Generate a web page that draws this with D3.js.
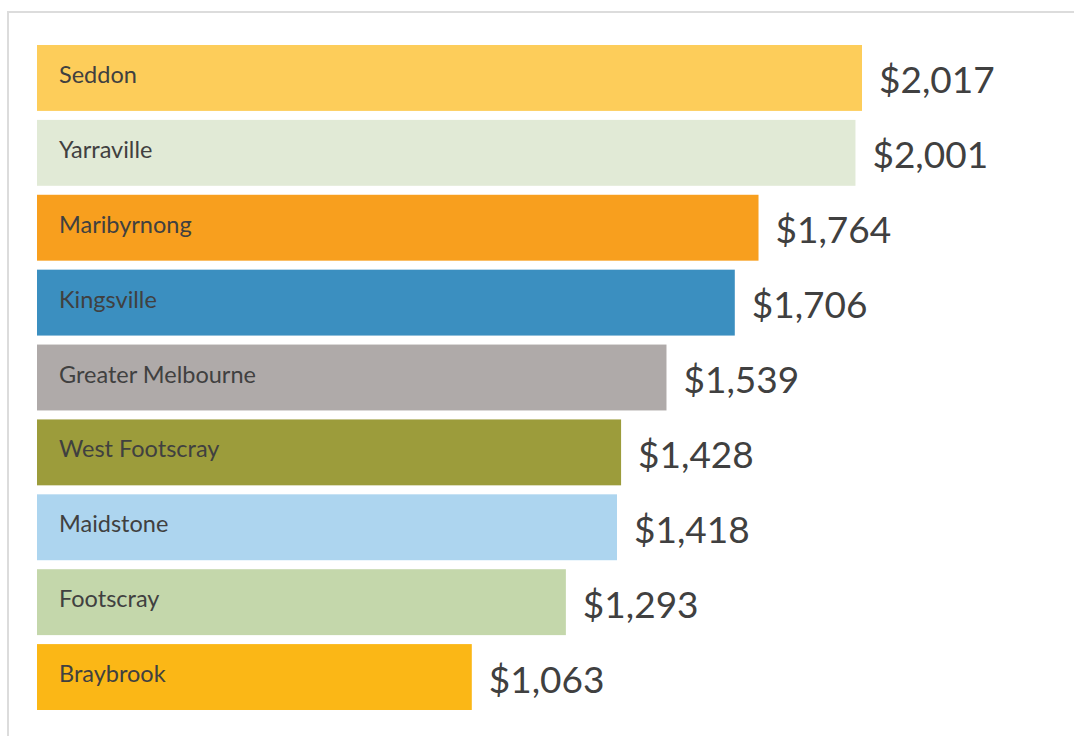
<!DOCTYPE html>
<html>
<head>
<meta charset="utf-8">
<script src="https://cdn.jsdelivr.net/npm/d3@7"></script>
<style>
  body { margin: 0; background: #fff; }
  svg { display: block; }
</style>
</head>
<body>
<script>
var suburbs = ['Seddon', 'Yarraville', 'Maribyrnong', 'Kingsville', 'Greater Melbourne',
               'West Footscray', 'Maidstone', 'Footscray', 'Braybrook'];
var rents = [2017, 2001, 1764, 1706, 1539, 1428, 1418, 1293, 1063];
var barColors = ['#fdcd5a', '#e1ead6', '#f89f1e', '#3b8fc0', '#afaaa9',
                 '#9c9c3b', '#add5ef', '#c4d7ab', '#fbb716'];

var chartOption = {
  width: 1074,
  height: 736
};

var rows = suburbs.map(function(s, i){
  return { name: s, value: rents[i], color: barColors[i] };
});

var svg = d3.select('body')
            .append('svg')
            .attr('width', chartOption.width)
            .attr('height', chartOption.height);

// light frame round the chart
svg.append('rect')
   .attr('x', 8)
   .attr('y', 12)
   .attr('width', 1080)
   .attr('height', 740)
   .style('fill', 'none')
   .style('stroke', '#dcdcdc')
   .style('stroke-width', 2);

var x = d3.scaleLinear()
          .domain([0, 2017])
          .range([37, 862]);

var y = d3.scaleBand()
          .domain(suburbs)
          .range([45, 710])
          .paddingInner(0.12)
          .paddingOuter(0);

var fmt = d3.format('$,');

var bars = svg.append('g')
              .selectAll('g')
              .data(rows)
              .enter()
                .append('g');

bars.append('rect')
    .attr('x', x(0))
    .attr('y', function(d){ return y(d.name); })
    .attr('width', function(d){ return x(d.value) - x(0); })
    .attr('height', y.bandwidth())
    .style('fill', function(d){ return d.color; });

bars.append('text')
    .attr('x', x(0) + 22)
    .attr('y', function(d){ return y(d.name) + y.bandwidth() / 2 - 4; })
    .attr('dominant-baseline', 'central')
    .style('font-family', 'Lato, sans-serif')
    .style('font-size', '23.5px')
    .style('fill', '#404040')
    .text(function(d){ return d.name; });

bars.append('text')
    .attr('x', function(d){ return x(d.value) + 17; })
    .attr('y', function(d){ return y(d.name) + y.bandwidth() / 2 + 1; })
    .attr('dominant-baseline', 'central')
    .style('font-family', 'Lato, sans-serif')
    .style('font-size', '37px')
    .style('fill', '#404040')
    .text(function(d){ return fmt(d.value); });
</script>
</body>
</html>
